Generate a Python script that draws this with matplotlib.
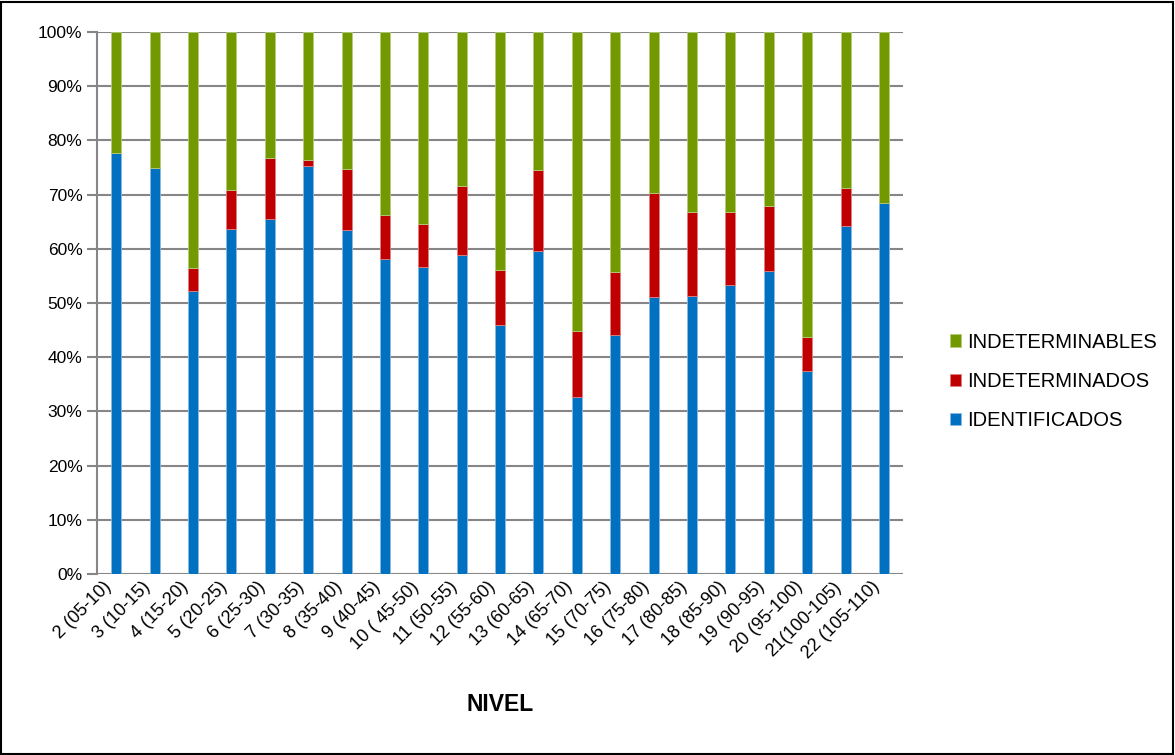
import numpy as np
import matplotlib.pyplot as plt
import matplotlib.transforms as mtransforms
from matplotlib.patches import Rectangle
from matplotlib.ticker import PercentFormatter

plt.rcParams['font.family'] = ['Liberation Sans', 'DejaVu Sans']

niveles = ['2 (05-10)', '3 (10-15)', '4 (15-20)', '5 (20-25)', '6 (25-30)',
           '7 (30-35)', '8 (35-40)', '9 (40-45)', '10 ( 45-50)', '11 (50-55)',
           '12 (55-60)', '13 (60-65)', '14 (65-70)', '15 (70-75)', '16 (75-80)',
           '17 (80-85)', '18 (85-90)', '19 (90-95)', '20 (95-100)', '21(100-105)',
           '22 (105-110)']

# percentages
identificados = [77.6, 74.9, 52.2, 63.6, 65.4, 75.2, 63.5, 58.1, 56.6, 58.9, 45.9,
                 59.6, 32.6, 44.1, 51.1, 51.2, 53.3, 55.9, 37.4, 64.2, 68.4]
indeterminados = [0.0, 0.0, 4.3, 7.2, 11.4, 1.1, 11.3, 8.1, 7.9, 12.6, 10.1,
                  14.9, 12.3, 11.7, 19.1, 15.5, 13.4, 12.0, 6.3, 7.1, 0.0]

ident = np.array(identificados)
indet = np.array(indeterminados)
indeterminables = 100 - ident - indet

fig = plt.figure(figsize=(11.75, 7.55), dpi=100)
ax = fig.add_axes([0.0826, 0.2397, 0.686, 0.718])

x = np.arange(len(niveles))
w = 0.26
b1 = ax.bar(x, ident, w, color='#0070C0', edgecolor='#8DB9E2', linewidth=0.6,
            label='IDENTIFICADOS', zorder=3)
b2 = ax.bar(x, indet, w, bottom=ident, color='#C00000', edgecolor='#E08080',
            linewidth=0.6, label='INDETERMINADOS', zorder=3)
b3 = ax.bar(x, indeterminables, w, bottom=ident + indet, color='#729A00',
            edgecolor='#B5CC80', linewidth=0.6, label='INDETERMINABLES', zorder=3)

ax.set_ylim(0, 100)
ax.set_xlim(-0.5, len(niveles) - 0.5)
ax.set_yticks(np.arange(0, 101, 10))
ax.yaxis.set_major_formatter(PercentFormatter(decimals=0))
ax.grid(axis='y', color='#868686', linewidth=1.5, zorder=0)

for s in ['top', 'right', 'bottom']:
    ax.spines[s].set_visible(False)
ax.spines['left'].set_color('#868686')
ax.spines['left'].set_linewidth(1.5)

ax.set_xticks(x)
ax.set_xticklabels(niveles, rotation=45, ha='right', rotation_mode='anchor')
ax.tick_params(axis='x', length=0, labelsize=13, pad=6)
ax.tick_params(axis='y', length=7, color='#868686', width=1.5, labelsize=12.5)
shift = mtransforms.ScaledTranslation(-0.13, 0.04, fig.dpi_scale_trans)
for lbl in ax.get_xticklabels():
    lbl.set_transform(lbl.get_transform() + shift)
ax.set_xlabel('NIVEL', fontsize=16.5, fontweight='bold', labelpad=22)

fig.legend(handles=[b3, b2, b1], loc='center left', bbox_to_anchor=(0.793, 0.495),
           frameon=False, fontsize=14.5, handlelength=0.55, handleheight=0.55,
           handletextpad=0.3, labelspacing=1.0)

fig.add_artist(Rectangle((0.001, 0.001), 0.997, 0.997, transform=fig.transFigure,
                         fill=False, edgecolor='black', linewidth=1.5))

fig.savefig('out.png', dpi=100)
